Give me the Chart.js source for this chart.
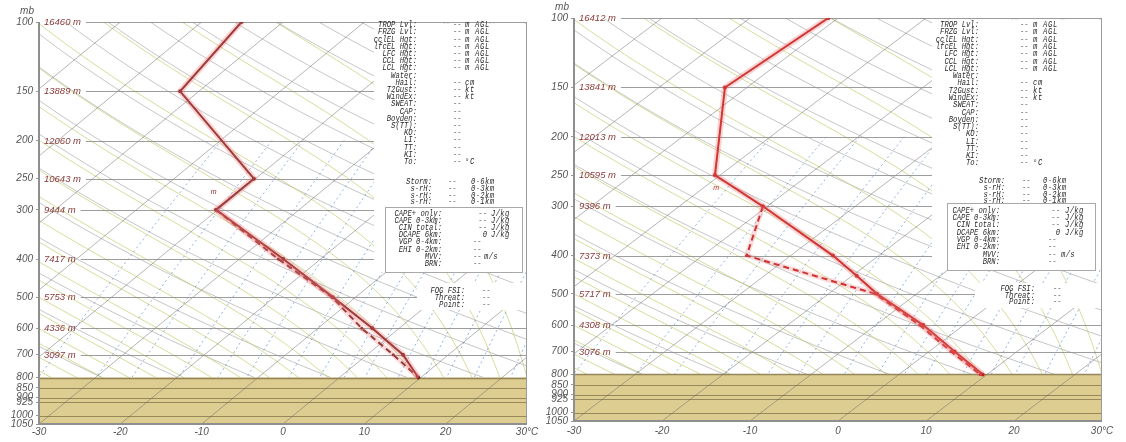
<!DOCTYPE html>
<html><head><meta charset="utf-8">
<script src="https://cdn.jsdelivr.net/npm/chart.js@4.4.1/dist/chart.umd.min.js"></script>
<style>
html,body{margin:0;padding:0;background:#fff;width:1126px;height:442px;overflow:hidden}
canvas{position:absolute;top:0}
</style></head>
<body>
<canvas id="left" width="548" height="442" style="left:0px"></canvas>
<canvas id="right" width="586" height="442" style="left:540px"></canvas>
<script>
// ---------------- data ----------------
const pressureTicks = [100,150,200,250,300,400,500,600,700,800,850,900,925,1000,1050];
const tempTicks = [-30,-20,-10,0,10,20,30];
const heightLevels = [100,150,200,250,300,400,500,600,700];
const leftHeights  = [16460,13889,12060,10643,9444,7417,5753,4336,3097];
const rightHeights = [16412,13841,12013,10595,9396,7373,5717,4308,3076];

const leftTempP = [100,150,250,300,400,500,600,700,800];
const leftTemp  = [-65.1,-62.3,-40.2,-40.2,-24.6,-12.8,-3.3,4.4,9.7];
const leftDewP  = [300,400,500,600,700,800];
const leftDew   = [-40.2,-25.2,-12.9,-4.6,3.2,9.7];

const rightTempP = [100,150,250,300,400,450,500,600,700,800];
const rightTemp  = [-61.1,-62.5,-50.6,-40.5,-25.2,-19.5,-14.5,-4.6,2.9,9.5];
const rightDewP  = [300,400,500,600,700,800];
const rightDew   = [-40.5,-35.0,-14.7,-5.0,2.5,9.2];

const leftMarker  = {p:271, t:-43.1};
const rightMarker = {p:270, t:-48.5};

const surfaceP = 800;
const dryThetas = [240,250,260,270,280,290,300,310,320,330,340,350,360,370,380,390,400,410,420,430,440,450,460,470,480,490,500,510,520];
const moistT1000 = [-45,-42,-39,-36,-33,-30,-27,-24,-21,-18,-15,-12,-9,-6,-3,0,3,6,9,12,15,18,21,24,27,30,33,36,39];
const mixRatios = [0.2,0.4,0.6,1,1.5,2,3,4,5,6,8,10,12,15,20,25];
const isotherms = [-100,-90,-80,-70,-60,-50,-40,-30,-20,-10,0,10,20,30];

const infoTop = [
  ["TROP Lvl:","--","m AGL"],["FRZG Lvl:","--","m AGL"],["cclEL Hgt:","--","m AGL"],
  ["lfcEL Hgt:","--","m AGL"],["LFC Hgt:","--","m AGL"],["CCL Hgt:","--","m AGL"],
  ["LCL Hgt:","--","m AGL"],["Water:","",""],["Hail:","--","cm"],["T2Gust:","--","kt"],
  ["WindEx:","--","kt"],["SWEAT:","--",""],["CAP:","--",""],["Boyden:","--",""],
  ["S(TT):","--",""],["KO:","--",""],["LI:","--",""],["TT:","--",""],["KI:","--",""],["To:","--","°C"]
];
const infoStorm = [["Storm:","--","0-6km"],["s-rH:","--","0-3km"],["s-rH:","--","0-2km"],["s-rH:","--","0-1km"]];
const infoCape = [
  ["CAPE+ only:","--","J/kg"],["CAPE 0-3km:","--","J/kg"],["CIN total:","--","J/kg"],
  ["DCAPE 6km:","0","J/kg"],["VGP 0-4km:","--",""],["EHI 0-2km:","--",""],["MVV:","--","m/s"],["BRN:","--",""]
];
const infoFog = [["FOG FSI:","--"],["Threat:","--"],["Point:","--"]];

// ---------------- panel styles ----------------
const panels = {
  left: {
    yWidth:39, padRight:21, padTop:22, xHeight:18, xPad:2, color:'#7e2626',
    heights:leftHeights, marker:leftMarker,
    white:[-153,272], topY:25, topDy:7.2, lab:-110, val:-74, unit:-62,
    stormY:182, stormDy:6.7, sLab:-95, sVal:-79, sUnit:-56,
    capeBox:[-142,207,-5,272], capeY:213.5, capeDy:7.2, cLab:-85, cValR:-40, cUnit:-36, cPlain:-54, cMs:-43,
    fogWhite:[-110,283,310], fogY:291, fogDy:6.8, fLab:-62, fVal:-45
  },
  right: {
    yWidth:34, padRight:24, padTop:18, xHeight:21, xPad:4, color:'#c21f1f',
    heights:rightHeights, marker:rightMarker,
    white:[-170,270], topY:25, topDy:7.28, lab:-123, val:-82, unit:-69,
    stormY:181, stormDy:6.7, sLab:-97, sVal:-80, sUnit:-59,
    capeBox:[-155,203,-7,270], capeY:210.7, capeDy:7.3, cLab:-102, cValR:-42, cUnit:-37, cPlain:-54, cMs:-41,
    fogWhite:[-127,283,308], fogY:289, fogDy:6.5, fLab:-67, fVal:-49
  }
};

// ---------------- skew-T helpers ----------------
const K = 60/Math.log(1050/100);
const skewX = (T,p) => T + K*Math.log(1050/p);
const esat = Tc => 6.112*Math.exp(17.67*Tc/(Tc+243.5));
function dTdlnp(TK,p){
  const Rd=287.04, cp=1005.7, Lv=2.501e6, eps=0.622;
  const e=esat(TK-273.15); const rs=eps*e/Math.max(p-e,1);
  return (Rd*TK + Lv*rs)/(cp + Lv*Lv*rs*eps/(Rd*TK*TK));
}
function moistPath(T0){
  let T=T0+273.15, lp=Math.log(1000); const h=-0.01, out=[];
  while(lp>=Math.log(100)-1e-9){
    const p=Math.exp(lp); out.push([T-273.15,p]);
    const k1=dTdlnp(T,p); const k2=dTdlnp(T+h*k1,Math.exp(lp+h));
    T+=h*(k1+k2)/2; lp+=h;
  }
  return out;
}
function pSamples(p0,p1,n){const a=[];for(let i=0;i<=n;i++){a.push(Math.exp(Math.log(p0)+(Math.log(p1)-Math.log(p0))*i/n));}return a;}

const skewPlugin = {
  id:'skewT',
  beforeDatasetsDraw(chart){
    const S = panels[chart.canvas.id];
    const {ctx, chartArea:a, scales:{x,y}} = chart;
    const P = (T,p) => [x.getPixelForValue(skewX(T,p)), y.getPixelForValue(p)];
    const stroke = pts => {ctx.beginPath();pts.forEach((q,i)=>i?ctx.lineTo(q[0],q[1]):ctx.moveTo(q[0],q[1]));ctx.stroke();};
    const R=a.right;
    ctx.save();
    ctx.fillStyle='#fff'; ctx.fillRect(a.left,a.top,a.right-a.left,a.bottom-a.top);
    ctx.beginPath(); ctx.rect(a.left,a.top,a.right-a.left,a.bottom-a.top); ctx.clip();
    // dry adiabats
    ctx.strokeStyle='rgba(125,125,125,0.55)'; ctx.lineWidth=0.8; ctx.setLineDash([]);
    const ps = pSamples(100,surfaceP,60);
    dryThetas.forEach(th=>stroke(ps.map(p=>P(th*Math.pow(p/1000,0.2857)-273.15,p))));
    // moist adiabats
    ctx.strokeStyle='rgba(195,205,110,0.7)'; ctx.lineWidth=1;
    moistT1000.forEach(t0=>stroke(moistPath(t0).map(q=>P(q[0],q[1]))));
    // mixing ratio lines
    ctx.strokeStyle='rgba(80,135,210,0.7)'; ctx.lineWidth=0.9; ctx.setLineDash([2,3]);
    const pm = pSamples(200,surfaceP,20);
    mixRatios.forEach(w=>stroke(pm.map(p=>{const e=w*p/(622+w);const l=Math.log(e/6.112);return P(243.5*l/(17.67-l),p);})));
    ctx.setLineDash([]);
    // ground
    const yg=y.getPixelForValue(surfaceP);
    ctx.fillStyle='#ddcd90'; ctx.fillRect(a.left,yg,a.right-a.left,a.bottom-yg);
    // isotherms
    ctx.strokeStyle='rgba(105,105,105,0.55)'; ctx.lineWidth=0.9;
    isotherms.forEach(T=>stroke([P(T,1050),P(T,100)]));
    // isobars
    ctx.font='italic 9.5px "Liberation Sans"';
    pressureTicks.forEach(p=>{
      if(p===1050) return;
      const yy=Math.round(y.getPixelForValue(p))+0.5;
      let x0=a.left;
      const hi=heightLevels.indexOf(p);
      if(hi>=0) x0=a.left+5+ctx.measureText(S.heights[hi]+' m').width+5;
      ctx.strokeStyle = p>surfaceP ? 'rgba(105,90,55,0.6)' : (p===surfaceP ? 'rgba(140,125,80,0.9)' : 'rgba(140,140,140,0.85)');
      ctx.lineWidth = p===surfaceP?1.5:1;
      stroke([[x0,yy],[a.right,yy]]);
    });
    ctx.restore();
    // height labels (not clipped)
    ctx.save();
    ctx.font='italic 9.5px "Liberation Sans"'; ctx.textBaseline='middle'; ctx.textAlign='left'; ctx.fillStyle='#8a3a3a';
    heightLevels.forEach((p,i)=>ctx.fillText(S.heights[i]+' m', a.left+5, Math.round(y.getPixelForValue(p))+0.5));
    ctx.restore();
    // info boxes
    ctx.save();
    ctx.fillStyle='#fff';
    ctx.fillRect(R+S.white[0],a.top+1.5,-S.white[0]-1,S.white[1]-a.top-1.5);
    ctx.fillRect(R+S.fogWhite[0],S.fogWhite[1],-S.fogWhite[0]-1,S.fogWhite[2]-S.fogWhite[1]);
    ctx.strokeStyle='#a8a8a8'; ctx.lineWidth=1;
    const cb=S.capeBox;
    ctx.strokeRect(Math.round(R+cb[0])+0.5,cb[1]+0.5,cb[2]-cb[0],cb[3]-cb[1]);
    ctx.fillStyle='#2a2a2a'; ctx.font='italic 8.2px "Liberation Mono"'; ctx.textBaseline='middle';
    const txt=(s,xx,yy,al,sp)=>{ if(!s) return; ctx.save(); ctx.translate(xx,yy); ctx.scale(0.88,1);
      ctx.letterSpacing = sp||'0px'; ctx.textAlign=al; ctx.fillText(s,0,0); ctx.restore(); };
    infoTop.forEach((r,i)=>{const yy=S.topY+S.topDy*i;txt(r[0],R+S.lab,yy,'right');txt(r[1],R+S.val,yy,'left');txt(r[2],R+S.unit,yy,'left','0.8px');});
    infoStorm.forEach((r,i)=>{const yy=S.stormY+S.stormDy*i;txt(r[0],R+S.sLab,yy,'right');txt(r[1],R+S.sVal,yy,'left');txt(r[2],R+S.sUnit,yy,'left','0.4px');});
    infoCape.forEach((r,i)=>{const yy=S.capeY+S.capeDy*i;txt(r[0],R+S.cLab,yy,'right');
      if(r[2]==='J/kg'){txt(r[1],R+S.cValR,yy,'right');txt(r[2],R+S.cUnit,yy,'left','0.4px');}
      else {txt(r[1],R+S.cPlain,yy,'left'); if(r[2]) txt(r[2],R+S.cMs,yy,'left','0.4px');}});
    infoFog.forEach((r,i)=>{const yy=S.fogY+S.fogDy*i;txt(r[0],R+S.fLab,yy,'right');txt(r[1],R+S.fVal,yy,'left');});
    // frame
    ctx.strokeStyle='#9a9a9a'; ctx.lineWidth=1;
    ctx.beginPath(); ctx.moveTo(R-0.5,a.top); ctx.lineTo(R-0.5,a.bottom); ctx.stroke();
    ctx.strokeStyle='#8f8f8f'; ctx.lineWidth=2;
    ctx.beginPath(); ctx.moveTo(a.left,a.top); ctx.lineTo(a.left,a.bottom); ctx.lineTo(a.right,a.bottom); ctx.stroke();
    ctx.restore();
  },
  afterDatasetsDraw(chart){
    const S = panels[chart.canvas.id];
    const {ctx, chartArea:a, scales:{x,y}} = chart;
    ctx.save();
    ctx.fillStyle=S.color; ctx.font='italic 7px "Liberation Sans"'; ctx.textAlign='center'; ctx.textBaseline='middle';
    ctx.fillText('m', x.getPixelForValue(skewX(S.marker.t,S.marker.p)), y.getPixelForValue(S.marker.p));
    ctx.fillStyle='#555'; ctx.font='italic 10px "Liberation Sans"';
    ctx.fillText('mb', a.left-12, a.top-11);
    ctx.restore();
  }
};

function build(id, tp, tv, dp, dv){
  const S = panels[id];
  const T = tp.map((p,i)=>({x:skewX(tv[i],p), y:p}));
  const D = dp.map((p,i)=>({x:skewX(dv[i],p), y:p}));
  const tickFont = {family:'Liberation Sans', size:10, style:'italic'};
  new Chart(document.getElementById(id), {
    type:'line',
    data:{datasets:[
      {data:T, borderColor:'rgba(240,110,110,0.3)', borderWidth:6, pointRadius:0, tension:0},
      {data:D, borderColor:'rgba(240,110,110,0.25)', borderWidth:5, pointRadius:0, tension:0},
      {data:D, borderColor:S.color, borderWidth:2, borderDash:[6,4], pointRadius:1.5, pointBackgroundColor:S.color, pointBorderWidth:0, tension:0},
      {data:T, borderColor:S.color, borderWidth:2, pointRadius:2, pointBackgroundColor:S.color, pointBorderWidth:0, tension:0}
    ]},
    options:{
      responsive:false, animation:false,
      layout:{padding:{left:0,right:S.padRight,top:S.padTop,bottom:0}},
      plugins:{legend:{display:false}, tooltip:{enabled:false}},
      scales:{
        x:{type:'linear', min:tempTicks[0], max:tempTicks[tempTicks.length-1],
           afterBuildTicks:s=>{s.ticks=tempTicks.map(v=>({value:v}));},
           ticks:{font:tickFont, color:'#555', padding:S.xPad, maxRotation:0, autoSkip:false,
                  callback:v=> v===30 ? '30°C' : String(v)},
           grid:{display:false, drawTicks:false}, border:{display:false},
           afterFit:s=>{s.height=S.xHeight;}},
        y:{type:'logarithmic', reverse:true, min:100, max:1050,
           afterBuildTicks:s=>{s.ticks=pressureTicks.map(v=>({value:v}));},
           ticks:{font:tickFont, color:'#555', padding:3, autoSkip:false, callback:v=>String(v)},
           grid:{display:true, drawOnChartArea:false, drawTicks:true, tickLength:3, color:'#999'},
           border:{display:false},
           afterFit:s=>{s.width=S.yWidth;}}
      }
    },
    plugins:[skewPlugin]
  });
}
build('left', leftTempP, leftTemp, leftDewP, leftDew);
build('right', rightTempP, rightTemp, rightDewP, rightDew);
</script>
</body></html>
